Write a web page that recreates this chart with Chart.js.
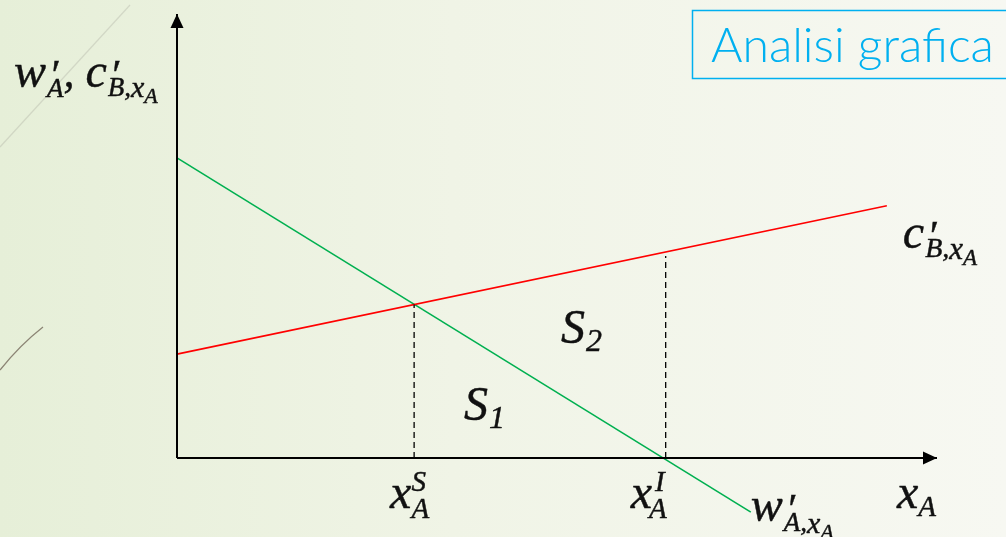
<!DOCTYPE html>
<html>
<head>
<meta charset="utf-8">
<script src="https://cdn.jsdelivr.net/npm/chart.js@4"></script>
<style>
  html, body { margin: 0; padding: 0; overflow: hidden; background: #f1f5e8; }
  canvas { display: block; }
</style>
</head>
<body>
<canvas id="chart" width="1006" height="537"></canvas>
<script>
// model units, origin at the corner of the axes
const marginalValue = [{ x: 0, y: 6.76 }, { x: 7.55, y: -1.22 }];  // w'_{A,xA}
const marginalCost = [{ x: 0, y: 2.34 }, { x: 9.34, y: 5.68 }];    // c'_{B,xA}
const optimum = { x: 3.12, y: 3.46 };   // x_A^S
const privateEq = { x: 6.43, y: 4.55 }; // x_A^I
const axisEnd = { x: 10, y: 10 };

const MATH = '"Liberation Serif", "DejaVu Serif", serif';

function mathText(ctx, x, y, parts) {
  let cx = x;
  ctx.lineWidth = 0.45;
  ctx.strokeStyle = ctx.fillStyle;
  for (const p of parts) {
    ctx.font = 'italic ' + p.s + 'px ' + MATH;
    ctx.fillText(p.t, cx + (p.dx || 0), y + (p.dy || 0));
    ctx.strokeText(p.t, cx + (p.dx || 0), y + (p.dy || 0));
    if (!p.stack) cx += ctx.measureText(p.t).width + (p.dx || 0);
  }
}

const decor = {
  id: 'decor',
  beforeDraw(chart) {
    const { ctx, width, height } = chart;
    ctx.save();
    const g = ctx.createLinearGradient(0, 0, width, 0);
    g.addColorStop(0, '#e6efd8');
    g.addColorStop(0.45, '#f0f4e6');
    g.addColorStop(1, '#f7f8f2');
    ctx.fillStyle = g;
    ctx.fillRect(0, 0, width, height);
    // faint decorative strokes on the left
    ctx.strokeStyle = 'rgba(160,160,150,0.3)';
    ctx.lineWidth = 1.2;
    ctx.beginPath();
    ctx.moveTo(0, 147);
    ctx.lineTo(130, 5);
    ctx.stroke();
    ctx.strokeStyle = '#8c8575';
    ctx.lineWidth = 1.3;
    ctx.beginPath();
    ctx.moveTo(0, 370);
    ctx.quadraticCurveTo(20, 345, 43, 327);
    ctx.stroke();
    ctx.restore();
  },
  afterDatasetsDraw(chart) {
    const { ctx, scales } = chart;
    const X = v => scales.x.getPixelForValue(v);
    const Y = v => scales.y.getPixelForValue(v);
    ctx.save();
    // arrow heads
    ctx.fillStyle = '#000';
    let tx = X(axisEnd.x), ty = Y(0);
    ctx.beginPath();
    ctx.moveTo(tx, ty); ctx.lineTo(tx - 14, ty - 6.5); ctx.lineTo(tx - 14, ty + 6.5);
    ctx.closePath(); ctx.fill();
    tx = X(0); ty = Y(axisEnd.y);
    ctx.beginPath();
    ctx.moveTo(tx, ty); ctx.lineTo(tx - 6.5, ty + 14); ctx.lineTo(tx + 6.5, ty + 14);
    ctx.closePath(); ctx.fill();

    // labels
    ctx.fillStyle = '#111';
    ctx.textBaseline = 'alphabetic';
    const y0 = Y(0);
    // vertical axis label
    mathText(ctx, X(0) - 163, Y(axisEnd.y) + 73, [
      { t: 'w', s: 48 },
      { t: '′', s: 42, dy: 2, stack: true, dx: 3 },
      { t: 'A', s: 27, dy: 10, dx: 1 },
      { t: ', ', s: 44 },
      { t: 'c', s: 48 },
      { t: '′', s: 42, dy: 2, stack: true, dx: 3 },
      { t: 'B,', s: 27, dy: 9, dx: 1 },
      { t: 'x', s: 30, dy: 10 },
      { t: 'A', s: 22, dy: 16 }
    ]);
    // horizontal axis label
    mathText(ctx, X(axisEnd.x) - 40, y0 + 50, [
      { t: 'x', s: 48 },
      { t: 'A', s: 29, dy: 8 }
    ]);
    // x_A^S
    mathText(ctx, X(optimum.x) - 24, y0 + 50, [
      { t: 'x', s: 48 },
      { t: 'S', s: 29, dy: -17, stack: true },
      { t: 'A', s: 29, dy: 10 }
    ]);
    // x_A^I
    mathText(ctx, X(privateEq.x) - 35, y0 + 50, [
      { t: 'x', s: 48 },
      { t: 'I', s: 29, dy: -17, stack: true, dx: 3 },
      { t: 'A', s: 29, dy: 10, dx: -3 }
    ]);
    // curve labels
    const gEnd = marginalValue[1];
    mathText(ctx, X(gEnd.x) + 0, Y(gEnd.y) + 9, [
      { t: 'w', s: 48 },
      { t: '′', s: 42, dy: 2, stack: true, dx: 3 },
      { t: 'A,', s: 27, dy: 10, dx: 1 },
      { t: 'x', s: 30, dy: 12 },
      { t: 'A', s: 22, dy: 18 }
    ]);
    const rEnd = marginalCost[1];
    mathText(ctx, X(rEnd.x) + 16, Y(rEnd.y) + 42, [
      { t: 'c', s: 48 },
      { t: '′', s: 42, dy: 2, stack: true, dx: 3 },
      { t: 'B,', s: 28, dy: 9, dx: 1 },
      { t: 'x', s: 31, dy: 11 },
      { t: 'A', s: 23, dy: 17 }
    ]);
    // areas
    mathText(ctx, X(optimum.x) + 50, Y(0) - 38, [
      { t: 'S', s: 48 },
      { t: '1', s: 32, dy: 8, dx: 1 }
    ]);
    mathText(ctx, X(optimum.x) + 147, Y(0) - 115, [
      { t: 'S', s: 48 },
      { t: '2', s: 32, dy: 8, dx: 1 }
    ]);

    // title box
    ctx.strokeStyle = '#00b0f0';
    ctx.lineWidth = 1.5;
    ctx.strokeRect(692.5, 10.5, 340, 68);
    ctx.fillStyle = '#00b0f0';
    let size = 42;
    ctx.font = '300 ' + size + 'px Lato, "Open Sans", sans-serif';
    const w = ctx.measureText('Analisi grafica').width;
    size = size * 283 / w;
    ctx.font = '300 ' + size + 'px Lato, "Open Sans", sans-serif';
    ctx.fillText('Analisi grafica', 711, 62);
    ctx.restore();
  }
};

const line = (data, color, width, dash) => ({
  data,
  showLine: true,
  borderColor: color,
  borderWidth: width,
  borderDash: dash || [],
  pointRadius: 0,
  fill: false,
  tension: 0
});

new Chart(document.getElementById('chart'), {
  type: 'scatter',
  data: {
    datasets: [
      line([{ x: 0, y: 0 }, { x: axisEnd.x, y: 0 }], '#000', 2),
      line([{ x: 0, y: 0 }, { x: 0, y: axisEnd.y }], '#000', 2),
      line([{ x: optimum.x, y: 0 }, optimum], '#000', 1.3, [6, 4]),
      line([{ x: privateEq.x, y: 0 }, privateEq], '#000', 1.3, [6, 4]),
      line(marginalCost, '#ff0000', 1.6),
      line(marginalValue, '#00b050', 1.6)
    ]
  },
  options: {
    responsive: false,
    animation: false,
    events: [],
    layout: { padding: 0 },
    clip: false,
    plugins: { legend: { display: false }, tooltip: { enabled: false } },
    scales: {
      x: { type: 'linear', display: false, min: -177 / 76, max: (1006 - 177) / 76 },
      y: { type: 'linear', display: false, min: -79 / 44.4, max: 458 / 44.4 }
    }
  },
  plugins: [decor]
});
</script>
</body>
</html>
